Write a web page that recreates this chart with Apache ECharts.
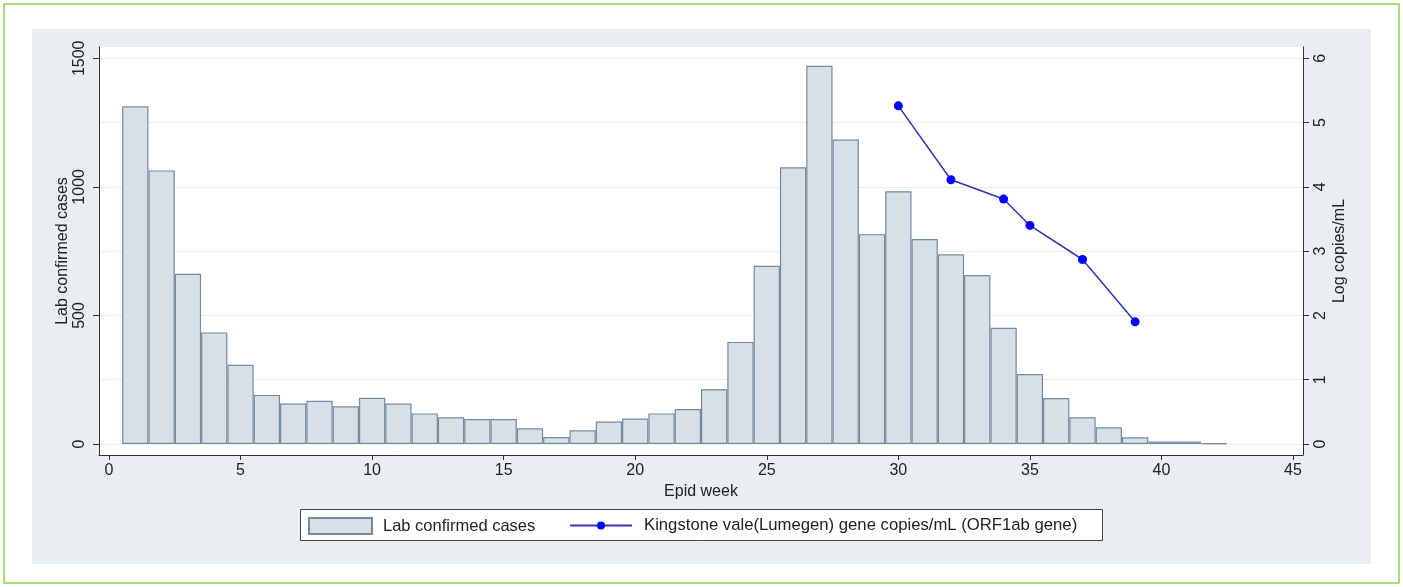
<!DOCTYPE html>
<html>
<head>
<meta charset="utf-8">
<script src="https://cdn.jsdelivr.net/npm/echarts@6/dist/echarts.min.js"></script>
<style>
html,body{margin:0;padding:0;background:#fff;}
#chart{width:1403px;height:587px;}
</style>
</head>
<body>
<div id="chart"></div>
<script>
// ---- data ----
const weeks = [1,2,3,4,5,6,7,8,9,10,11,12,13,14,15,16,17,18,19,20,21,22,23,24,25,26,27,28,29,30,31,32,33,34,35,36,37,38,39,40,41,42];
const labCases = [1313,1064,662,434,308,191,157,168,147,180,157,119,104,97,97,61,27,53,87,99,119,136,213,397,693,1076,1471,1184,816,983,797,738,657,452,272,179,104,65,26,10,10,3];
const lineWeeks = [30,32,34,35,37,39];
const logCopies = [5.26,4.11,3.81,3.40,2.87,1.90];
const xTicks = [0,5,10,15,20,25,30,35,40,45];
const leftTicks = [0,500,1000,1500];
const rightTicks = [0,1,2,3,4,5,6];
const barName = 'Lab confirmed cases';
const lineName = 'Kingstone vale(Lumegen) gene copies/mL (ORF1ab gene)';

const FONT = 'Liberation Sans, Arial, Helvetica, sans-serif';
const TXT = '#222';
const AX = '#333';
const plain = v => String(v);

const chart = echarts.init(document.getElementById('chart'), null, {renderer: 'canvas'});
chart.setOption({
  animation: false,
  backgroundColor: '#ffffff',
  textStyle: {fontFamily: FONT},
  graphic: {
    elements: [
      {type: 'rect', z: -30, shape: {x: 4, y: 4, width: 1395, height: 579},
       style: {fill: '#ffffff', stroke: '#92d050', lineWidth: 1.5}},
      {type: 'rect', z: -20, shape: {x: 32, y: 29, width: 1339, height: 535},
       style: {fill: '#e8eef1'}},
      {type: 'rect', z: -5, shape: {x: 300.5, y: 509.5, width: 802, height: 31},
       style: {fill: '#ffffff', stroke: '#444', lineWidth: 1}}
    ]
  },
  grid: {left: 99, right: 100, top: 47, bottom: 132, show: true, backgroundColor: '#ffffff', borderWidth: 0, containLabel: false},
  legend: [
    {data: [barName], left: 308, top: 517, padding: 0, itemWidth: 63, itemHeight: 16, icon: 'rect',
     selectedMode: false, textStyle: {fontSize: 16.5, color: TXT, fontFamily: FONT, padding: [0,0,0,6]}},
    {data: [lineName], left: 569, top: 517, padding: 0, itemWidth: 62, itemHeight: 10,
     selectedMode: false, textStyle: {fontSize: 16.7, color: TXT, fontFamily: FONT, padding: [0,0,0,7]}}
  ],
  xAxis: {
    type: 'value', min: -0.38, max: 45.38,
    name: 'Epid week', nameLocation: 'middle', nameGap: 29, nameMoveOverlap: false,
    nameTextStyle: {fontSize: 16, color: TXT, fontFamily: FONT},
    axisLine: {show: true, onZero: false, lineStyle: {color: AX, width: 1}},
    axisTick: {show: true, length: 5, customValues: xTicks, lineStyle: {color: AX}},
    axisLabel: {customValues: xTicks, formatter: plain, fontSize: 16, color: TXT, margin: 8, fontFamily: FONT},
    splitLine: {show: false}
  },
  yAxis: [
    {
      type: 'value', position: 'left', min: -42.8, max: 1543.9,
      name: 'Lab confirmed cases', nameLocation: 'middle', nameGap: 28, nameRotate: 90, nameMoveOverlap: false,
      nameTextStyle: {fontSize: 16, color: TXT, fontFamily: FONT},
      axisLine: {show: true, onZero: false, lineStyle: {color: AX, width: 1}},
      axisTick: {show: true, length: 6, customValues: leftTicks, lineStyle: {color: AX}},
      axisLabel: {customValues: leftTicks, formatter: plain, rotate: 90, fontSize: 16, color: TXT, margin: 11, fontFamily: FONT},
      splitLine: {show: false}
    },
    {
      type: 'value', position: 'right', min: -0.1712, max: 6.1757,
      name: 'Log copies/mL', nameLocation: 'middle', nameGap: 29, nameRotate: 90, nameMoveOverlap: false,
      nameTextStyle: {fontSize: 16, color: TXT, fontFamily: FONT},
      axisLine: {show: true, onZero: false, lineStyle: {color: AX, width: 1}},
      axisTick: {show: true, length: 6, customValues: rightTicks, lineStyle: {color: AX}},
      axisLabel: {customValues: rightTicks, formatter: plain, rotate: 90, fontSize: 16, color: TXT, margin: 10, fontFamily: FONT},
      splitLine: {show: true, lineStyle: {color: '#e6ecef', width: 1}}
    }
  ],
  series: [
    {
      name: barName, type: 'bar', xAxisIndex: 0, yAxisIndex: 0,
      barWidth: 26.3,
      data: weeks.map((w, i) => [w, labCases[i]]),
      itemStyle: {color: '#d9dfe7', borderColor: '#7489a2', borderWidth: 1.2},
      z: 2
    },
    {
      name: lineName, type: 'line', xAxisIndex: 0, yAxisIndex: 1,
      data: lineWeeks.map((w, i) => [w, logCopies[i]]),
      symbol: 'circle', symbolSize: 9,
      itemStyle: {color: '#0000ff'},
      lineStyle: {color: '#3434b0', width: 1.5},
      z: 3
    }
  ]
});
</script>
</body>
</html>
